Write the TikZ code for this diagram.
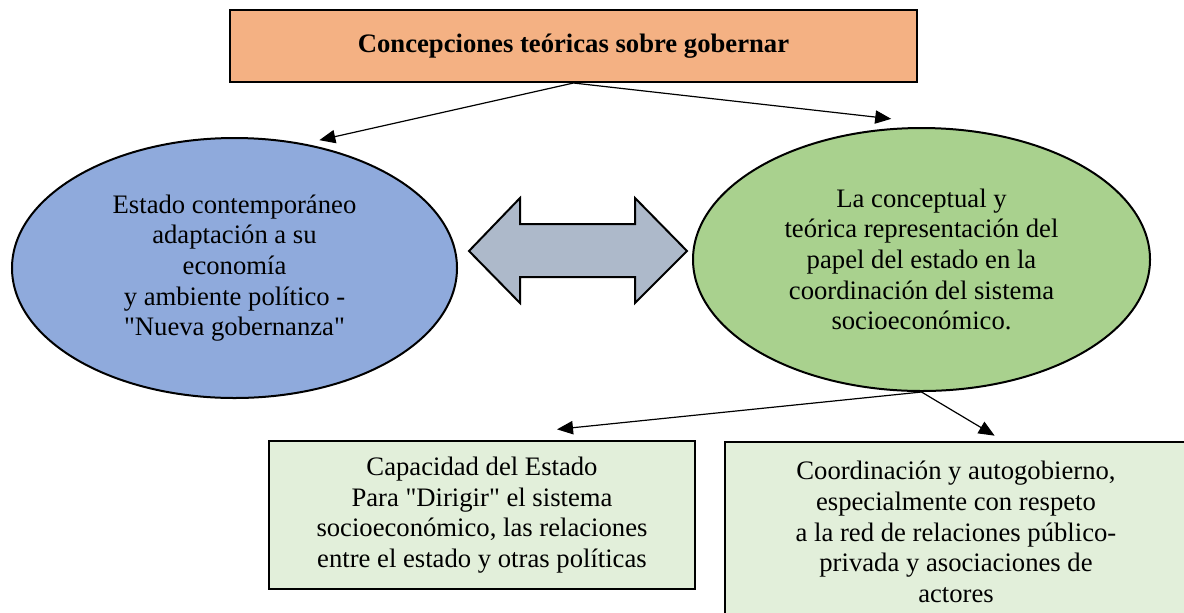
\documentclass[tikz,border=0pt]{standalone}
\usepackage{fontspec}
\setmainfont{Liberation Serif}
\usetikzlibrary{arrows.meta,shapes.geometric}

\definecolor{naranja}{HTML}{F4B183}
\definecolor{azul}{HTML}{8FAADC}
\definecolor{verde}{HTML}{A9D18E}
\definecolor{verdeclaro}{HTML}{E2EFDA}
\definecolor{gris}{HTML}{ADB9CA}

\begin{document}
\begin{tikzpicture}[x=0.75pt, y=-0.75pt,
  every node/.style={font=\fontsize{20}{23}\selectfont, align=center, inner sep=0pt},
  caja/.style={draw, line width=1.5pt, fill=verdeclaro},
  elipse/.style={ellipse, draw, line width=1.5pt},
  flecha/.style={-{Triangle[length=12pt,width=10pt]}, line width=0.9pt}]
\clip (0,0) rectangle (1184,612);
\node[draw, line width=1.5pt, fill=naranja, minimum width=515.25pt, minimum height=54pt, font=\fontsize{20}{23}\selectfont\bfseries] (titulo) at (573.5,46) {Concepciones teóricas sobre gobernar};
\node[elipse, fill=azul, minimum width=333.75pt, minimum height=195pt] (estado) at (234.5,268) {Estado contemporáneo\\adaptación a su\\economía\\y ambiente político -\\\textquotedbl Nueva gobernanza\textquotedbl};
\node[elipse, fill=verde, minimum width=342.75pt, minimum height=197.25pt] (concepcion) at (921.5,259.5) {La conceptual y\\teórica representación del\\papel del estado en la\\coordinación del sistema\\socioeconómico.};
\node[caja, minimum width=319.5pt, minimum height=111pt] (capacidad) at (482,515) {Capacidad del Estado\\Para \textquotedbl Dirigir\textquotedbl{} el sistema\\socioeconómico, las relaciones\\entre el estado y otras políticas};
\node[caja, minimum width=346.5pt, minimum height=135pt] (coordinacion) at (956,532) {Coordinación y autogobierno,\\especialmente con respeto\\a la red de relaciones público-\\privada y asociaciones de\\actores};
% flecha doble entre las elipses
\draw[line width=1.5pt, fill=gris] (469,251) -- (520,198) -- (520,224) -- (635,224) -- (635,198) -- (687,251) -- (635,303) -- (635,277) -- (520,277) -- (520,303) -- cycle;
\draw[flecha] (titulo.south) -- ([yshift=5pt]estado.55);
\draw[flecha] (titulo.south) -- ([yshift=7pt]concepcion.103);
\draw[flecha] (concepcion.south) -- ([yshift=8pt]capacidad.45);
\draw[flecha] (concepcion.south) -- ([yshift=4pt]coordinacion.67);
\end{tikzpicture}
\end{document}
